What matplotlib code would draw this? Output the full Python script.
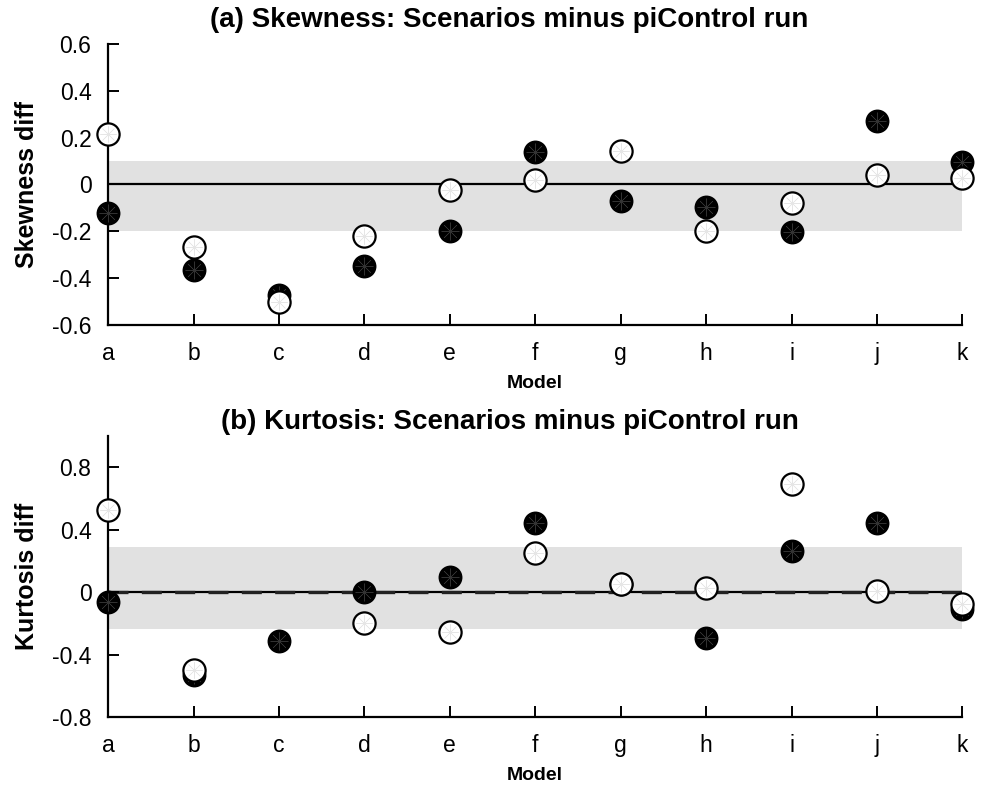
import matplotlib
matplotlib.use("Agg")
import matplotlib.pyplot as plt
import numpy as np

plt.rcParams['font.family'] = ['Liberation Sans', 'DejaVu Sans']

models = ['a', 'b', 'c', 'd', 'e', 'f', 'g', 'h', 'i', 'j', 'k']

# (a) skewness differences
skew_filled = [-0.12, -0.365, -0.47, -0.35, -0.198, 0.138, -0.072, -0.096, -0.203, 0.272, 0.096]
skew_open = [0.215, -0.265, -0.50, -0.22, -0.024, 0.019, 0.145, -0.20, -0.08, 0.04, 0.028]
skew_band = (-0.20, 0.10)

# (b) kurtosis differences
kurt_filled = [-0.066, -0.53, -0.316, 0.0, 0.099, 0.443, 0.05, -0.292, 0.265, 0.445, -0.11]
kurt_open = [0.529, -0.50, np.nan, -0.20, -0.256, 0.25, 0.05, 0.024, 0.695, 0.01, -0.075]
kurt_band = (-0.237, 0.289)

fig = plt.figure(figsize=(9.83, 7.85), dpi=100)
ax1 = fig.add_axes([0.110, 0.586, 0.869, 0.358])
ax2 = fig.add_axes([0.110, 0.0866, 0.869, 0.358])

x = np.arange(len(models))


def draw_panel(ax, filled, hollow, band, ylim, yticks, ylabel, title, dashed, tpad):
    ax.axhspan(band[0], band[1], color='#e1e1e1', lw=0, zorder=0)
    ax.axhline(0, color='black', lw=1.6, zorder=1)
    if dashed:
        ax.axhline(0, color='#222222', lw=2.4, ls=(0, (6, 4)), zorder=1)
    # filled circles with faint spokes
    ax.plot(x, filled, 'o', ms=16, mfc='black', mec='black', mew=1.2,
            ls='none', zorder=3, clip_on=False)
    ax.plot(x, filled, marker=(8, 2, 0), ms=13, mec='#333333', mew=0.35,
            ls='none', zorder=3.5, clip_on=False)
    # open circles
    ax.plot(x, hollow, 'o', ms=16, mfc='white', mec='black', mew=1.6,
            ls='none', zorder=4, clip_on=False)
    ax.plot(x, hollow, marker=(8, 2, 0), ms=12, mec='#e6e6e6', mew=0.35,
            ls='none', zorder=4.5, clip_on=False)
    ax.set_xlim(0, len(models) - 1)
    ax.set_ylim(*ylim)
    ax.set_xticks(x)
    ax.set_xticklabels(models)
    ax.set_yticks(yticks)
    ax.set_yticklabels(['0' if v == 0 else f'{v:g}' for v in yticks])
    for s in ['top', 'right']:
        ax.spines[s].set_visible(False)
    for s in ['left', 'bottom']:
        ax.spines[s].set_linewidth(1.6)
    ax.tick_params(direction='in', length=8, width=1.4, labelsize=16.5, pad=12)
    ax.set_xlabel('Model', fontsize=14, fontweight='bold', labelpad=7.5)
    ax.set_ylabel(ylabel, fontsize=18, fontweight='bold', labelpad=9)
    ax.set_title(title, fontsize=20, fontweight='bold', pad=tpad, x=0.47)


draw_panel(ax1, skew_filled, skew_open, skew_band, (-0.6, 0.6),
           [-0.6, -0.4, -0.2, 0, 0.2, 0.4, 0.6], 'Skewness diff',
           '(a) Skewness: Scenarios minus piControl run', False, 12)
draw_panel(ax2, kurt_filled, kurt_open, kurt_band, (-0.8, 1.0),
           [-0.8, -0.4, 0, 0.4, 0.8], 'Kurtosis diff',
           '(b) Kurtosis: Scenarios minus piControl run', True, 5)

fig.savefig('out.png', dpi=100)
